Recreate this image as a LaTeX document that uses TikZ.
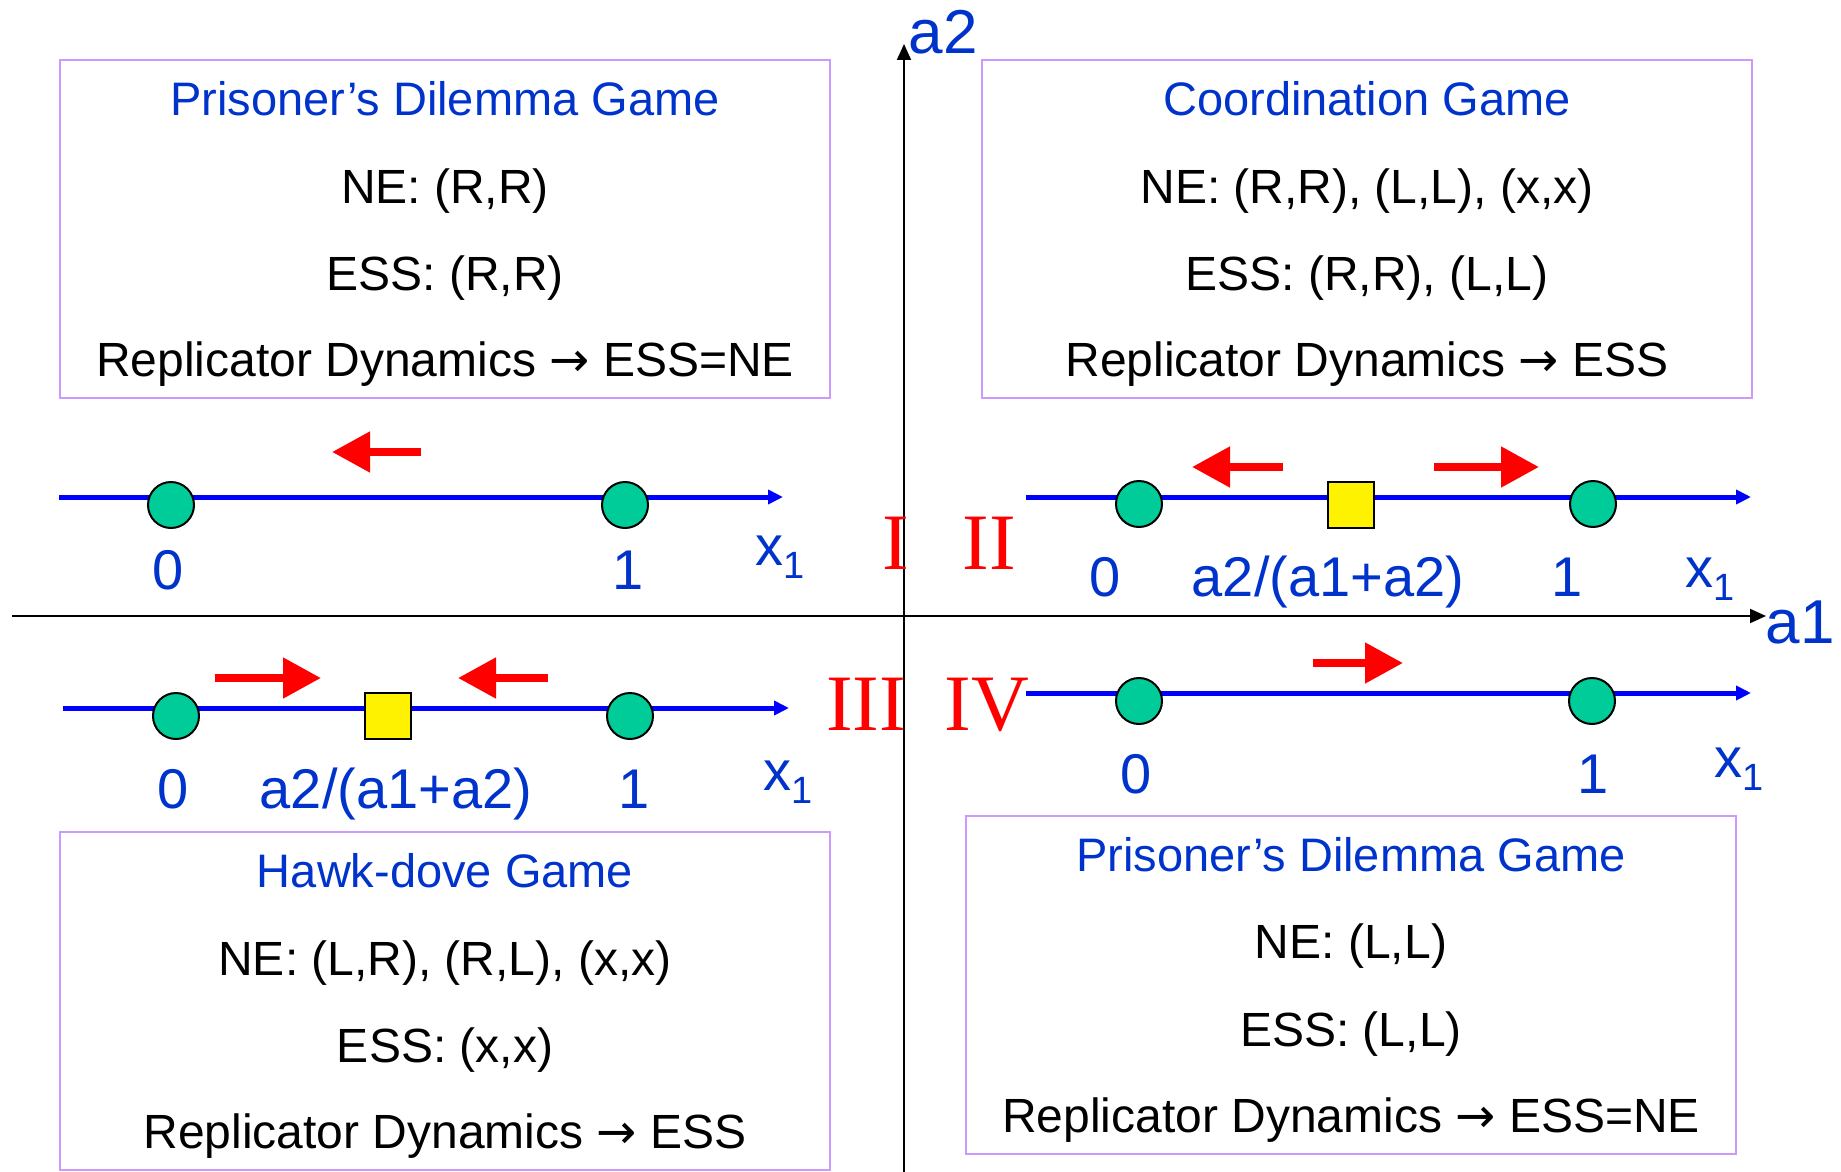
\documentclass[tikz,border=0pt]{standalone}
\usepackage{fontspec}
\setmainfont{Liberation Sans}
\newfontfamily\numeralfont{Liberation Serif}
\newfontfamily\arrowfont{DejaVu Sans}
\usetikzlibrary{arrows.meta}
\definecolor{labelblue}{RGB}{0,51,204}
\definecolor{boxline}{RGB}{204,153,255}
\definecolor{fixgreen}{RGB}{0,204,153}
\tikzset{
  gamebox/.style   = {draw=boxline, line width=2pt, anchor=north west,
                      minimum width=770pt, minimum height=338pt, inner sep=0pt},
  gametitle/.style = {anchor=base, text=labelblue, font=\fontsize{47}{56}\selectfont},
  gameline/.style  = {anchor=base, font=\fontsize{48}{56}\selectfont},
  numline/.style   = {draw=blue, line width=5pt, -{Triangle[length=15pt,width=14pt]}},
  flowarrow/.style = {draw=red, line width=8pt, -{Triangle[length=38pt,width=39pt]}},
  fixpt/.style     = {circle, draw, line width=2pt, fill=fixgreen,
                      minimum size=46pt, inner sep=0pt},
  mixpt/.style     = {rectangle, draw, line width=2pt, fill=yellow,
                      minimum size=46pt, inner sep=0pt},
  numlabel/.style  = {anchor=base, text=labelblue, font=\fontsize{56}{60}\selectfont},
  quadrant/.style  = {anchor=base, text=red, font=\numeralfont\fontsize{80}{80}\selectfont},
  axisline/.style  = {line width=2pt, -{Triangle[length=16pt,width=14pt]}},
  axislabel/.style = {anchor=base, text=labelblue, font=\fontsize{62}{70}\selectfont}
}
\newcommand{\xone}{x\raisebox{-13pt}{\fontsize{38}{40}\selectfont 1}}
\newcommand{\tends}{{\arrowfont →}}

\begin{document}
\begin{tikzpicture}[x=1pt,y=-1pt]
\useasboundingbox (0,0) rectangle (1841,1172);

% axes
\coordinate (h0) at (12,616);
\coordinate (h1) at (1766,616);
\coordinate (v0) at (904,1172);
\coordinate (v1) at (904,44);
\draw[axisline] (h0) -- (h1);
\draw[axisline] (v0) -- (v1);
\node[axislabel] (a1) at (1800,643) {a1};
\node[axislabel] (a2) at (943,53) {a2};

% quadrant numbers
\node[quadrant] (q1) at (896,569) {I};
\node[quadrant] (q2) at (989,569) {II};
\node[quadrant] (q3) at (866,730) {III};
\node[quadrant] (q4) at (987,730) {IV};

% I: prisoner's dilemma, drift to 0
\coordinate (s1) at (59,497);
\coordinate (e1) at (783,497);
\draw[numline] (s1) -- (e1);
\node[fixpt] (p10) at (171,505) {};
\node[fixpt] (p11) at (625,505) {};
\coordinate (f1a) at (421,452);
\coordinate (f1b) at (332,452);
\draw[flowarrow] (f1a) -- (f1b);
\node[numlabel] (n10) at (168,589) {0};
\node[numlabel] (n11) at (628,589) {1};
\node[numlabel] (x1) at (780,565) {\xone};

% II: coordination, unstable interior point
\coordinate (s2) at (1026,497);
\coordinate (e2) at (1751,497);
\draw[numline] (s2) -- (e2);
\node[fixpt] (p20) at (1139,504) {};
\node[mixpt] (m2) at (1351,505) {};
\node[fixpt] (p21) at (1593,504) {};
\coordinate (f2a) at (1283,467);
\coordinate (f2b) at (1192,467);
\coordinate (f2c) at (1434,467);
\coordinate (f2d) at (1539,467);
\draw[flowarrow] (f2a) -- (f2b);
\draw[flowarrow] (f2c) -- (f2d);
\node[numlabel] (n20) at (1105,596) {0};
\node[numlabel] (r2) at (1328,596) {a2/(a1+a2)};
\node[numlabel] (n21) at (1567,596) {1};
\node[numlabel] (x2) at (1710,587) {\xone};

% III: hawk-dove, stable interior point
\coordinate (s3) at (63,708);
\coordinate (e3) at (789,708);
\draw[numline] (s3) -- (e3);
\node[fixpt] (p30) at (176,716) {};
\node[mixpt] (m3) at (388,716) {};
\node[fixpt] (p31) at (630,716) {};
\coordinate (f3a) at (215,678);
\coordinate (f3b) at (321,678);
\coordinate (f3c) at (548,678);
\coordinate (f3d) at (458,678);
\draw[flowarrow] (f3a) -- (f3b);
\draw[flowarrow] (f3c) -- (f3d);
\node[numlabel] (n30) at (173,808) {0};
\node[numlabel] (r3) at (396,808) {a2/(a1+a2)};
\node[numlabel] (n31) at (634,808) {1};
\node[numlabel] (x3) at (788,790) {\xone};

% IV: prisoner's dilemma, drift to 1
\coordinate (s4) at (1026,693);
\coordinate (e4) at (1751,693);
\draw[numline] (s4) -- (e4);
\node[fixpt] (p40) at (1139,701) {};
\node[fixpt] (p41) at (1592,701) {};
\coordinate (f4a) at (1313,663);
\coordinate (f4b) at (1403,663);
\draw[flowarrow] (f4a) -- (f4b);
\node[numlabel] (n40) at (1136,793) {0};
\node[numlabel] (n41) at (1593,793) {1};
\node[numlabel] (x4) at (1739,777) {\xone};

% game boxes
\node[gamebox] (g1) at (59,59) {};
\node[gametitle] (g1t) at ([yshift=-56pt]g1.north) {Prisoner's Dilemma Game};
\node[gameline] (g1a) at ([yshift=-144pt]g1.north) {NE: (R,R)};
\node[gameline] (g1b) at ([yshift=-231pt]g1.north) {ESS: (R,R)};
\node[gameline] (g1c) at ([yshift=-317pt]g1.north) {Replicator Dynamics \tends{} ESS=NE};

\node[gamebox] (g2) at (981,59) {};
\node[gametitle] (g2t) at ([yshift=-56pt]g2.north) {Coordination Game};
\node[gameline] (g2a) at ([yshift=-144pt]g2.north) {NE: (R,R), (L,L), (x,x)};
\node[gameline] (g2b) at ([yshift=-231pt]g2.north) {ESS: (R,R), (L,L)};
\node[gameline] (g2c) at ([yshift=-317pt]g2.north) {Replicator Dynamics \tends{} ESS};

\node[gamebox] (g3) at (59,831) {};
\node[gametitle] (g3t) at ([yshift=-56pt]g3.north) {Hawk-dove Game};
\node[gameline] (g3a) at ([yshift=-144pt]g3.north) {NE: (L,R), (R,L), (x,x)};
\node[gameline] (g3b) at ([yshift=-231pt]g3.north) {ESS: (x,x)};
\node[gameline] (g3c) at ([yshift=-317pt]g3.north) {Replicator Dynamics \tends{} ESS};

\node[gamebox] (g4) at (965,815) {};
\node[gametitle] (g4t) at ([yshift=-56pt]g4.north) {Prisoner's Dilemma Game};
\node[gameline] (g4a) at ([yshift=-143pt]g4.north) {NE: (L,L)};
\node[gameline] (g4b) at ([yshift=-231pt]g4.north) {ESS: (L,L)};
\node[gameline] (g4c) at ([yshift=-317pt]g4.north) {Replicator Dynamics \tends{} ESS=NE};
\end{tikzpicture}
\end{document}
